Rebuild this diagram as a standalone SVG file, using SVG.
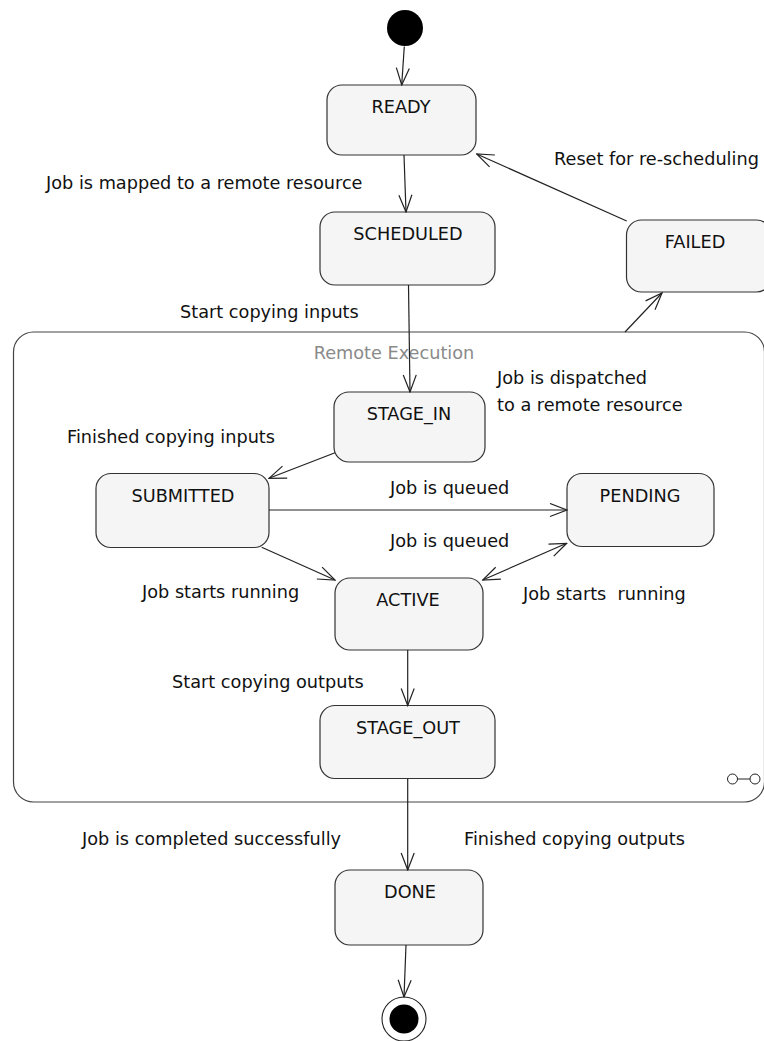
<svg xmlns="http://www.w3.org/2000/svg" width="764" height="1041" viewBox="0 0 764 1041">
  <style>
    .state { fill: #f5f5f5; stroke: #333; stroke-width: 1.2; }
    .name { font-family: "DejaVu Sans", Verdana, sans-serif; font-size: 17.7px; fill: #111; text-anchor: middle; }
    .lbl { font-family: "DejaVu Sans", Verdana, sans-serif; font-size: 17.7px; fill: #111; white-space: pre; }
    .region { font-family: "DejaVu Sans", Verdana, sans-serif; font-size: 17.7px; fill: #8a8a8a; text-anchor: middle; }
    .edge { fill: none; stroke: #222; stroke-width: 1.2; }
  </style>
  <defs>
    <!-- open V arrowhead shared by all transitions -->
    <marker id="open" viewBox="0 0 19 15" refX="18" refY="7.5" markerWidth="19" markerHeight="15" markerUnits="userSpaceOnUse" orient="auto-start-reverse">
      <path d="M1,1 L18,7.5 L1,14" fill="none" stroke="#222" stroke-width="1.2"/>
    </marker>
  </defs>

  <rect width="764" height="1041" fill="#fff"/>

  <!-- composite state: Remote Execution -->
  <g id="remote-execution">
    <rect x="13.5" y="332" width="751" height="470" rx="20" ry="20" fill="#fff" stroke="#444" stroke-width="1.2"/>
    <text class="region" x="394" y="359">Remote Execution</text>
    <circle cx="732.5" cy="779" r="5" fill="#fff" stroke="#222" stroke-width="1"/>
    <circle cx="755" cy="779" r="5" fill="#fff" stroke="#222" stroke-width="1"/>
    <line x1="737.5" y1="779" x2="750" y2="779" stroke="#222" stroke-width="1"/>
  </g>

  <!-- pseudo states -->
  <g id="initial">
    <circle cx="405" cy="28" r="18" fill="#000"/>
  </g>
  <g id="final">
    <circle cx="404" cy="1019" r="22" fill="#fff" stroke="#222" stroke-width="1.1"/>
    <circle cx="404" cy="1019" r="14.5" fill="#000"/>
  </g>

  <!-- states -->
  <g id="ready">
    <rect class="state" x="327" y="85" width="149" height="70" rx="15"/>
    <text class="name" x="401" y="113">READY</text>
  </g>
  <g id="scheduled">
    <rect class="state" x="320" y="212" width="175" height="73" rx="15"/>
    <text class="name" x="408" y="240">SCHEDULED</text>
  </g>
  <g id="failed">
    <rect class="state" x="626.5" y="220" width="145" height="72" rx="15"/>
    <text class="name" x="695" y="248">FAILED</text>
  </g>
  <g id="stage-in">
    <rect class="state" x="334" y="392" width="151" height="70" rx="15"/>
    <text class="name" x="409" y="420">STAGE_IN</text>
  </g>
  <g id="submitted">
    <rect class="state" x="96" y="473.5" width="173" height="74" rx="15"/>
    <text class="name" x="183" y="502">SUBMITTED</text>
  </g>
  <g id="pending">
    <rect class="state" x="567" y="473.5" width="147" height="73" rx="15"/>
    <text class="name" x="640" y="502">PENDING</text>
  </g>
  <g id="active">
    <rect class="state" x="335" y="578" width="148" height="72" rx="15"/>
    <text class="name" x="408" y="605.5">ACTIVE</text>
  </g>
  <g id="stage-out">
    <rect class="state" x="320" y="705.5" width="175" height="73" rx="15"/>
    <text class="name" x="408" y="734">STAGE_OUT</text>
  </g>
  <g id="done">
    <rect class="state" x="335" y="870" width="148" height="75" rx="15"/>
    <text class="name" x="410" y="898">DONE</text>
  </g>

  <!-- transitions -->
  <g id="connectors">
    <line class="edge" x1="404.3" y1="46.5" x2="401.7" y2="85" marker-end="url(#open)"/>
    <line class="edge" x1="404" y1="155" x2="406" y2="212" marker-end="url(#open)"/>
    <line class="edge" x1="626.7" y1="221" x2="476.7" y2="154" marker-end="url(#open)"/>
    <line class="edge" x1="625" y1="332" x2="662" y2="293" marker-end="url(#open)"/>
    <line class="edge" x1="408.5" y1="285" x2="410" y2="392" marker-end="url(#open)"/>
    <line class="edge" x1="335" y1="452.7" x2="269" y2="478.3" marker-end="url(#open)"/>
    <line class="edge" x1="269" y1="510" x2="567" y2="510" marker-end="url(#open)"/>
    <line class="edge" x1="261.7" y1="547.3" x2="335" y2="580" marker-end="url(#open)"/>
    <line class="edge" x1="482.7" y1="580" x2="566.7" y2="543.3" marker-start="url(#open)" marker-end="url(#open)"/>
    <line class="edge" x1="407.7" y1="650" x2="407.7" y2="705.5" marker-end="url(#open)"/>
    <line class="edge" x1="407.7" y1="778.5" x2="407.7" y2="870" marker-end="url(#open)"/>
    <line class="edge" x1="406" y1="945" x2="404" y2="997" marker-end="url(#open)"/>
  </g>

  <!-- transition labels -->
  <g id="labels">
    <text class="lbl" x="46" y="189">Job is mapped to a remote resource</text>
    <text class="lbl" x="554" y="165">Reset for re-scheduling</text>
    <text class="lbl" x="180" y="318">Start copying inputs</text>
    <text class="lbl" x="497" y="384">Job is dispatched</text>
    <text class="lbl" x="497" y="411">to a remote resource</text>
    <text class="lbl" x="67" y="443">Finished copying inputs</text>
    <text class="lbl" x="390" y="494">Job is queued</text>
    <text class="lbl" x="390" y="547">Job is queued</text>
    <text class="lbl" x="142" y="598">Job starts running</text>
    <text class="lbl" x="523" y="600" xml:space="preserve">Job starts  running</text>
    <text class="lbl" x="172" y="688">Start copying outputs</text>
    <text class="lbl" x="82" y="845">Job is completed successfully</text>
    <text class="lbl" x="464" y="845">Finished copying outputs</text>
  </g>
</svg>
